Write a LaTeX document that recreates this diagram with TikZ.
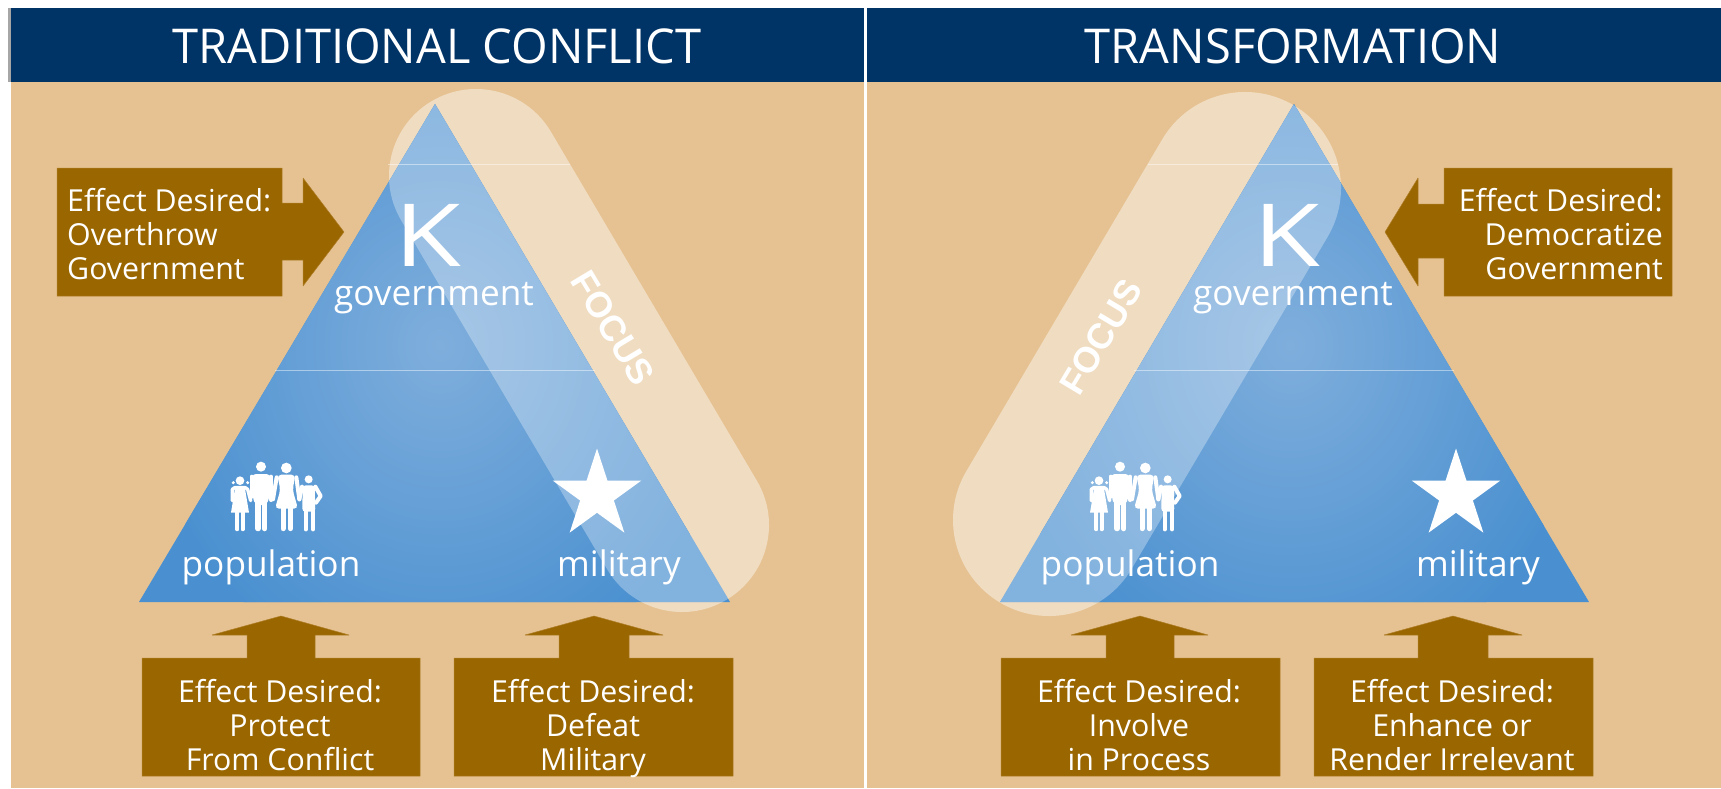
\documentclass[tikz,border=0pt]{standalone}
\usepackage{fontspec}
\usepackage{graphicx}
\setmainfont{Open Sans}
\newfontfamily\ttlfont[FakeStretch=0.98]{Open Sans}
\newfontfamily\focusfont{Liberation Sans}
\usetikzlibrary{shapes.geometric}
\definecolor{navy}{HTML}{003366}
\definecolor{tan}{HTML}{E6C292}
\definecolor{brownbox}{HTML}{996600}
\definecolor{brownedge}{HTML}{B07E28}
\definecolor{bluedeep}{HTML}{4A90D0}
\definecolor{bluepale}{HTML}{7FAEDC}
\tikzset{
  x=1pt,y=-1pt,
  header/.style={fill=navy,draw=none},
  panel/.style={fill=tan,draw=none},
  blockarrow/.style={fill=brownbox,draw=brownedge,line width=.5pt,line join=bevel},
  title/.style={text=white,inner sep=0,font=\ttlfont\fontsize{48}{48}\selectfont},
  effect/.style={text=white,inner sep=0,font=\fontsize{30.3}{34}\selectfont},
  role/.style={text=white,inner sep=0,anchor=base,font=\fontsize{35.2}{36}\selectfont},
  kay/.style={text=white,inner sep=0,anchor=base,font=\fontsize{87}{87}\selectfont},
  focuslabel/.style={text=white,inner sep=0,font=\focusfont\bfseries\fontsize{36}{36}\selectfont},
  pillouter/.style={line cap=round,draw=white,opacity=.43},
  pillinner/.style={line cap=round,draw=white,opacity=.31},
  staricon/.style={star,star points=5,star point ratio=2.618,fill=white,inner sep=0,minimum size=93pt},
  faint/.style={draw=white,line width=.7pt,opacity=.45},
  family/.pic={
    \begin{scope}[scale=1/3]
      % girl
      \fill[white] (120,122) circle (13);
      \fill[white] (100,128) circle (5) (143,128) circle (5);
      \draw[white,line width=3.4pt,line cap=round,line join=round]
        (97,182) -- (97,148) -- (104,143) -- (136,143) -- (143,148) -- (152,182);
      \fill[white] (106,140) -- (134,140) -- (147,218) -- (93,218) -- cycle;
      \draw[white,line width=3.8pt,line cap=round] (112,215) -- (112,268) (128,215) -- (128,268);
      % man
      \fill[white] (183,80) circle (15);
      \fill[white,rounded corners=6] (152,102) -- (215,102) -- (204,195) -- (162,195) -- cycle;
      \draw[white,line width=4pt,line cap=round,line join=round]
        (155,110) -- (155,170) (213,110) -- (213,180);
      \draw[white,line width=5.2pt,line cap=round] (174,190) -- (174,266) (194,190) -- (194,266);
      % woman
      \fill[white] (259,84) circle (16);
      \draw[white,line width=4pt,line cap=round,line join=round]
        (230,112) -- (219,178) (289,112) -- (298,178);
      \fill[white,rounded corners=4] (232,104) -- (286,104) -- (278,150) -- (294,206) -- (225,206) -- (241,150) -- cycle;
      \draw[white,line width=5pt,line cap=round] (249,200) -- (249,266) (271,200) -- (271,266);
      % boy
      \fill[white] (326,118) circle (12);
      \fill[white,rounded corners=3] (308,136) -- (344,136) -- (346,215) -- (307,215) -- cycle;
      \draw[white,line width=4pt,line cap=round,line join=round]
        (306,140) -- (298,178) (346,140) -- (362,168) -- (348,188);
      \draw[white,line width=4.2pt,line cap=round] (317,210) -- (317,268) (339,210) -- (339,268);
    \end{scope}
  }
}
\begin{document}
\begin{tikzpicture}
\useasboundingbox (0,0) rectangle (1721,789);
% panels
\fill[gray!70] (8,8) rectangle (11,82);
\path[panel] (11,82) rectangle (864,788);
\path[panel] (867,82) rectangle (1721,788);
\path[header] (11,8) rectangle (864,82);
\path[header] (867,8) rectangle (1721,82);
\node[title] (titleL) at (437,46) {TRADITIONAL CONFLICT};
\node[title] (titleR) at (1293,46) {TRANSFORMATION};

% ---------- left triangle
\coordinate (LA) at (435,104);
\coordinate (LB) at (139,602);
\coordinate (LC) at (730,602);
\coordinate (LP1) at (476,176);
\coordinate (LP2) at (682,525);
\path[pillouter,line width=174pt] (LP1) -- (LP2);
\begin{scope}
  \clip (LA) -- (LB) -- (LC) -- cycle;
  \fill[bluedeep] (130,100) rectangle (740,610);
  \shade[inner color=bluepale,outer color=bluedeep] (440,345) ellipse (300 and 340);
  \path[pillinner,line width=174pt] (LP1) -- (LP2);
\end{scope}
\draw[faint] (388,164) -- (570,164);
\draw[faint] (275,370) -- (595,370);

% ---------- right triangle
\coordinate (RA) at (1294,104);
\coordinate (RB) at (1000,602);
\coordinate (RC) at (1589,602);
\coordinate (RP1) at (1245,188);
\coordinate (RP2) at (1049,520);
\path[pillouter,line width=192pt] (RP1) -- (RP2);
\begin{scope}
  \clip (RA) -- (RB) -- (RC) -- cycle;
  \fill[bluedeep] (990,100) rectangle (1600,610);
  \shade[inner color=bluepale,outer color=bluedeep] (1290,345) ellipse (300 and 340);
  \path[pillinner,line width=192pt] (RP1) -- (RP2);
\end{scope}
\draw[faint] (1148,164) -- (1338,164);
\draw[faint] (1134,370) -- (1454,370);

% ---------- focus labels
\node[focuslabel,rotate=-59] (focusL) at (613,328) {FOCUS};
\node[focuslabel,rotate=59] (focusR) at (1101,337) {FOCUS};

% ---------- triangle labels
\node[kay] (kL) at (428,266) {\scalebox{1.25}[1]{K}};
\node[role] (govL) at (434,305) {government};
\node[staricon] (starL) at (597,495) {};
\node[role] (milL) at (619,576) {military};
\node[role] (popL) at (271,576) {population};
\pic at (200,440) {family};

\node[kay] (kR) at (1287,266) {\scalebox{1.25}[1]{K}};
\node[role] (govR) at (1293,305) {government};
\node[staricon] (starR) at (1456,495) {};
\node[role] (milR) at (1478,576) {military};
\node[role] (popR) at (1130,576) {population};
\pic at (1059,440) {family};

% ---------- block arrows
\path[blockarrow] (57,168) -- (282,168) -- (282,203) -- (303,203) -- (303,178) -- (344,232) -- (303,286) -- (303,260) -- (282,260) -- (282,296) -- (57,296) -- cycle;
\node[effect,align=left,anchor=west] (effL) at (67,234) {Effect Desired:\\Overthrow\\Government};

\path[blockarrow] (1672,168) -- (1444,168) -- (1444,204) -- (1418,204) -- (1418,178) -- (1385,232) -- (1418,286) -- (1418,258) -- (1444,258) -- (1444,296) -- (1672,296) -- cycle;
\node[effect,align=right,anchor=east] (effR) at (1663,234) {Effect Desired:\\Democratize\\Government};

\path[blockarrow] (142,776) -- (142,658) -- (247,658) -- (247,635) -- (212,635) -- (281,616) -- (349,635) -- (315,635) -- (315,658) -- (420,658) -- (420,776) -- cycle;
\node[effect,align=center,anchor=north] (effPop) at (280,679) {Effect Desired:\\Protect\\From Conflict};

\path[blockarrow] (454,776) -- (454,658) -- (559,658) -- (559,635) -- (525,635) -- (594,616) -- (663,635) -- (629,635) -- (629,658) -- (733,658) -- (733,776) -- cycle;
\node[effect,align=center,anchor=north] (effMil) at (593,679) {Effect Desired:\\Defeat\\Military};

\path[blockarrow] (1001,776) -- (1001,658) -- (1106,658) -- (1106,635) -- (1071,635) -- (1140,616) -- (1208,635) -- (1174,635) -- (1174,658) -- (1280,658) -- (1280,776) -- cycle;
\node[effect,align=center,anchor=north] (effPopR) at (1139,679) {Effect Desired:\\Involve\\in Process};

\path[blockarrow] (1314,776) -- (1314,658) -- (1418,658) -- (1418,635) -- (1384,635) -- (1453,616) -- (1522,635) -- (1488,635) -- (1488,658) -- (1593,658) -- (1593,776) -- cycle;
\node[effect,align=center,anchor=north] (effMilR) at (1452,679) {Effect Desired:\\Enhance or\\Render Irrelevant};
\end{tikzpicture}
\end{document}
